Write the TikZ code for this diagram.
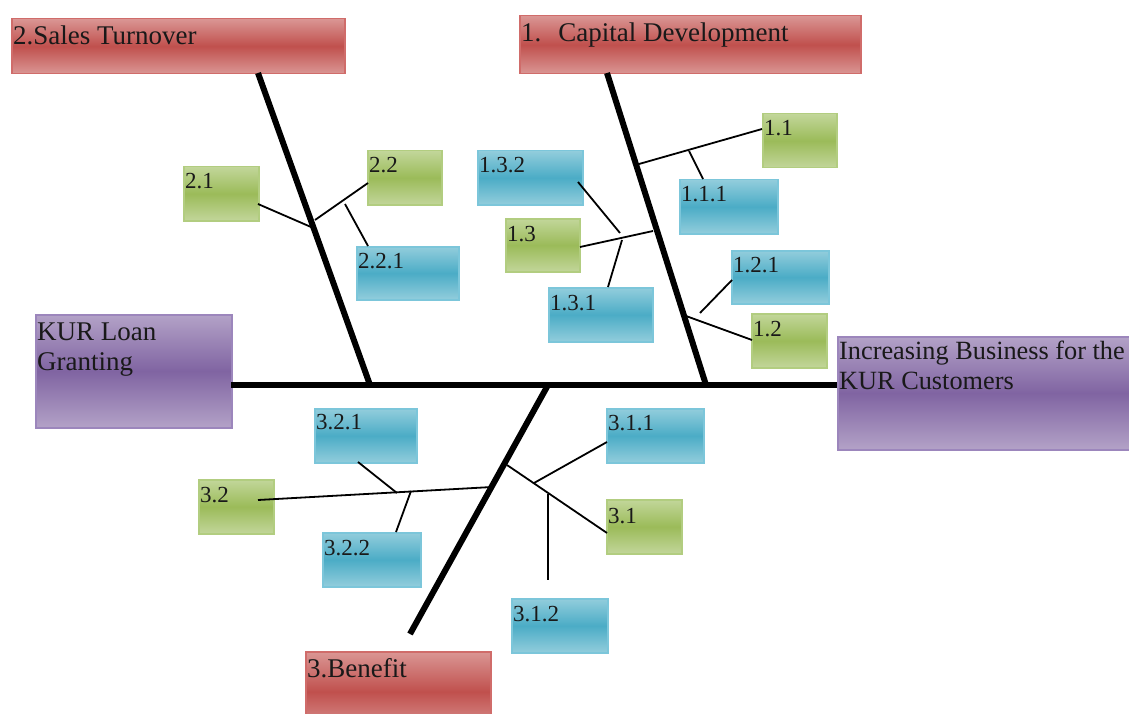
\documentclass[tikz,border=0pt]{standalone}
\usepackage{fontspec}
\setmainfont{Liberation Serif}
\definecolor{rTop}{HTML}{DA9694}
\definecolor{rMid}{HTML}{C0504D}
\definecolor{rEdge}{HTML}{D06C6A}
\definecolor{gTop}{HTML}{C2D69A}
\definecolor{gMid}{HTML}{9BBB59}
\definecolor{gEdge}{HTML}{B2CD80}
\definecolor{bTop}{HTML}{92CDDC}
\definecolor{bMid}{HTML}{4BACC6}
\definecolor{bEdge}{HTML}{7CC6DA}
\definecolor{pTop}{HTML}{B3A2C7}
\definecolor{pMid}{HTML}{8064A2}
\definecolor{pEdge}{HTML}{9C86BC}
\tikzset{
  box/.style={draw, line width=1.5pt, inner sep=0pt, anchor=north west},
  redb/.style={box, draw=rEdge, top color=rTop, bottom color=rTop, middle color=rMid},
  greenb/.style={box, draw=gEdge, top color=gTop, bottom color=gTop, middle color=gMid},
  blueb/.style={box, draw=bEdge, top color=bTop, bottom color=bTop, middle color=bMid},
  purpleb/.style={box, draw=pEdge, top color=pTop, bottom color=pTop, middle color=pMid},
  bigtxt/.style={anchor=base west, inner sep=0pt, text=black!90, font=\fontsize{27}{30}\selectfont},
  inctxt/.style={anchor=base west, inner sep=0pt, text=black!90, font=\fontsize{26.3}{30}\selectfont},
  smtxt/.style={anchor=base west, inner sep=0pt, text=black!90, font=\fontsize{23}{25}\selectfont},
  spine/.style={line width=6pt},
  twig/.style={line width=1.8pt},
}
\newcommand\bx[9]{%
  \node[#1, minimum width=#5pt, minimum height=#6pt] (#2) at (#3,#4) {};
  \node[#7] (#2t) at ([xshift=2pt,yshift=-#9pt]#2.north west) {#8};}
\begin{document}
\begin{tikzpicture}[x=1pt,y=-1pt]
\useasboundingbox (0,0) rectangle (1129,714);
\clip (0,0) rectangle (1129,714);
% main boxes
\bx{redb}{st}{11}{18}{333}{55}{bigtxt}{2.Sales Turnover}{27}
\bx{redb}{cd}{519}{15}{341}{58}{bigtxt}{1.\hspace{17pt}Capital Development}{27}
\bx{redb}{bf}{305}{651}{185}{80}{bigtxt}{3.Benefit}{26}
\bx{purpleb}{kur}{35}{314}{196}{113}{bigtxt}{\parbox[t]{300pt}{KUR Loan\\Granting}}{26}
\bx{purpleb}{inc}{837}{336}{320}{113}{inctxt}{\parbox[t]{340pt}{Increasing Business for the\\KUR Customers}}{23}
% small boxes
\bx{greenb}{b21}{183}{166}{75}{54}{smtxt}{2.1}{23}
\bx{greenb}{b22}{367}{150}{74}{54}{smtxt}{2.2}{23}
\bx{blueb}{b221}{356}{246}{102}{53}{smtxt}{2.2.1}{22}
\bx{greenb}{b11}{762}{113}{74}{54}{smtxt}{1.1}{23}
\bx{blueb}{b111}{679}{179}{98}{54}{smtxt}{1.1.1}{22}
\bx{blueb}{b132}{477}{150}{105}{54}{smtxt}{1.3.2}{23}
\bx{greenb}{b13}{505}{218}{74}{53}{smtxt}{1.3}{23}
\bx{blueb}{b131}{548}{287}{104}{54}{smtxt}{1.3.1}{23}
\bx{blueb}{b121}{731}{250}{97}{53}{smtxt}{1.2.1}{22}
\bx{greenb}{b12}{751}{313}{75}{54}{smtxt}{1.2}{23}
\bx{blueb}{b321}{314}{408}{102}{54}{smtxt}{3.2.1}{21}
\bx{greenb}{b32}{198}{479}{75}{54}{smtxt}{3.2}{23}
\bx{blueb}{b322}{322}{532}{98}{54}{smtxt}{3.2.2}{23}
\bx{blueb}{b311}{606}{408}{97}{54}{smtxt}{3.1.1}{22}
\bx{greenb}{b31}{606}{499}{75}{54}{smtxt}{3.1}{24}
\bx{blueb}{b312}{511}{598}{96}{54}{smtxt}{3.1.2}{23}
% spine and bones
\coordinate (s0) at (231,385);
\coordinate (s1) at (837,385);
\coordinate (j2) at (370,385);
\coordinate (j1) at (706,385);
\coordinate (j3) at (548,385);
\coordinate (t2) at (258,73);
\coordinate (t1) at (607,73);
\coordinate (e3) at (410,634);
\draw[spine] (s0) -- (s1);
\draw[spine] (t2) -- (j2);
\draw[spine] (t1) -- (j1);
\draw[spine] (j3) -- (e3);
% twig coordinates
\coordinate (a21) at (258,204);   \coordinate (p21) at (311,227);
\coordinate (p22) at (315,220);   \coordinate (a22) at (368,183);
\coordinate (p221) at (345,204);  \coordinate (a221) at (368,246);
\coordinate (p11) at (639,164);   \coordinate (a11) at (762,129);
\coordinate (p111) at (689,151);  \coordinate (a111) at (703,179);
\coordinate (p13) at (653,231);   \coordinate (a13) at (580,247);
\coordinate (a132) at (578,182);  \coordinate (p132) at (620,233);
\coordinate (p131) at (622,240);  \coordinate (a131) at (608,287);
\coordinate (p121) at (700,313);  \coordinate (a121) at (732,280);
\coordinate (p12) at (686,316);   \coordinate (a12) at (752,340);
\coordinate (a32) at (258,500);   \coordinate (p32) at (492,487);
\coordinate (a321) at (358,462);  \coordinate (p321) at (397,493);
\coordinate (p322) at (411,491);  \coordinate (a322) at (396,532);
\coordinate (p31) at (507,465);   \coordinate (a31) at (607,533);
\coordinate (p311) at (534,483);  \coordinate (a311) at (607,442);
\coordinate (p312) at (548,494);  \coordinate (a312) at (548,580);
\draw[twig] (a21) -- (p21);
\draw[twig] (p22) -- (a22);
\draw[twig] (p221) -- (a221);
\draw[twig] (p11) -- (a11);
\draw[twig] (p111) -- (a111);
\draw[twig] (p13) -- (a13);
\draw[twig] (a132) -- (p132);
\draw[twig] (p131) -- (a131);
\draw[twig] (p121) -- (a121);
\draw[twig] (p12) -- (a12);
\draw[twig] (a32) -- (p32);
\draw[twig] (a321) -- (p321);
\draw[twig] (p322) -- (a322);
\draw[twig] (p31) -- (a31);
\draw[twig] (p311) -- (a311);
\draw[twig] (p312) -- (a312);
\end{tikzpicture}
\end{document}
